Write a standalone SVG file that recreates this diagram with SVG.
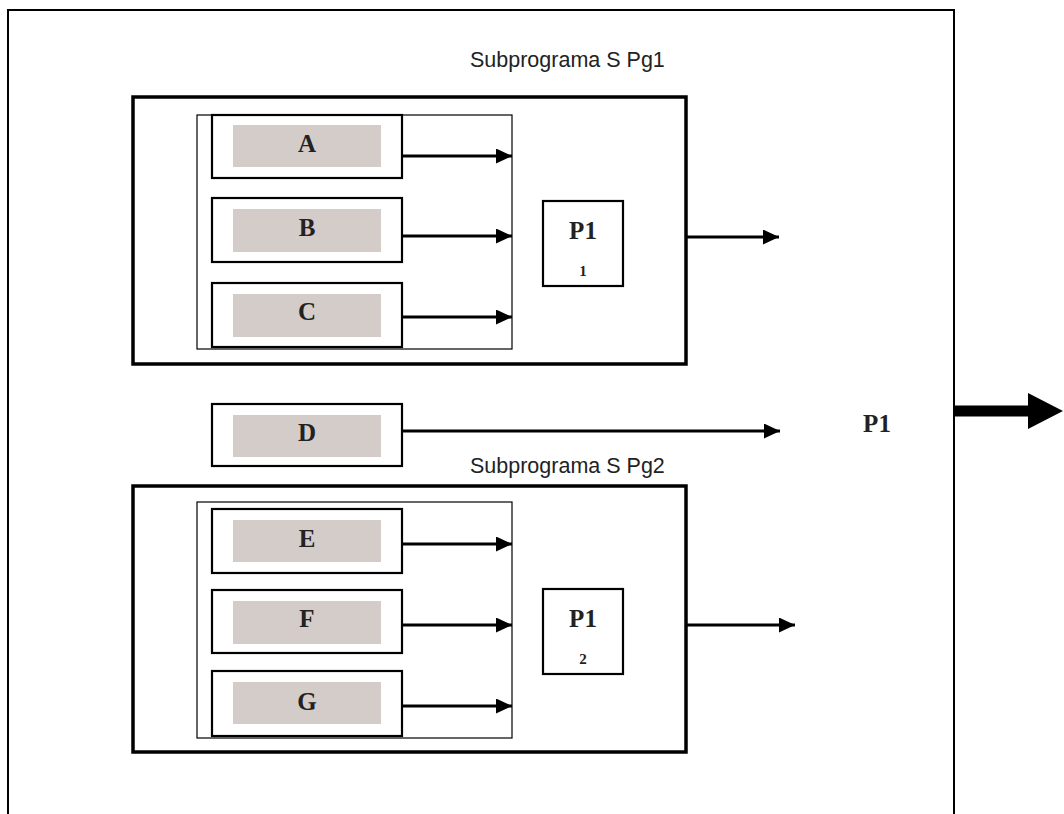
<svg xmlns="http://www.w3.org/2000/svg" width="1064" height="814" viewBox="0 0 1064 814">
<style>
.frame{fill:none;stroke:#000;stroke-width:2}
.sub{fill:none;stroke:#000;stroke-width:3.5}
.inner{fill:none;stroke:#000;stroke-width:1.2}
.box{fill:#fff;stroke:#000;stroke-width:2.2}
.shade{fill:#d3ccc9;stroke:none}
.pbox{fill:#fff;stroke:#000;stroke-width:2.2}
.lbl{font-family:"Liberation Serif","Times New Roman",serif;font-weight:bold;font-size:25px;fill:#222;text-anchor:middle}
.sm{font-family:"Liberation Serif","Times New Roman",serif;font-weight:bold;font-size:15px;fill:#222;text-anchor:middle}
.title{font-family:"Liberation Sans",Arial,sans-serif;font-size:21.5px;fill:#222}
.conn{stroke:#000;stroke-width:3;fill:none;marker-end:url(#ah)}
</style>
<defs>
<marker id="ah" markerUnits="userSpaceOnUse" markerWidth="16" markerHeight="15" refX="16" refY="7.5" orient="auto">
<path d="M0,0 L16,7.5 L0,15 z" fill="#000"/>
</marker>
</defs>
<rect width="1064" height="814" fill="#fff"/>
<g id="frame">
<path class="frame" d="M8,816 L8,10 L954,10 L954,816"/>
</g>
<g id="subprograma1">
<text class="title" x="470" y="67">Subprograma S Pg1</text>
<rect class="sub" x="133" y="97" width="553" height="267"/>
<rect class="inner" x="197" y="115" width="315" height="234"/>
</g>
<g id="nodeA"><rect class="box" x="212" y="115" width="190" height="63"/><rect class="shade" x="233" y="125" width="148" height="42"/><text class="lbl" x="307" y="152">A</text></g>
<g id="nodeB"><rect class="box" x="212" y="198" width="190" height="64"/><rect class="shade" x="233" y="209" width="148" height="43"/><text class="lbl" x="307" y="236">B</text></g>
<g id="nodeC"><rect class="box" x="212" y="283" width="190" height="64"/><rect class="shade" x="233" y="294" width="148" height="43"/><text class="lbl" x="307" y="320">C</text></g>
<g id="nodeP11"><rect class="pbox" x="543" y="201" width="80" height="85"/><text class="lbl" x="583" y="239">P1</text><text class="sm" x="583" y="276">1</text></g>
<g id="nodeD"><rect class="box" x="212" y="404" width="190" height="62"/><rect class="shade" x="233" y="415" width="148" height="42"/><text class="lbl" x="307" y="441">D</text></g>
<g id="subprograma2">
<text class="title" x="470" y="473">Subprograma S Pg2</text>
<rect class="sub" x="133" y="486" width="553" height="266"/>
<rect class="inner" x="197" y="502" width="315" height="236"/>
</g>
<g id="nodeE"><rect class="box" x="212" y="509" width="190" height="64"/><rect class="shade" x="233" y="520" width="148" height="42"/><text class="lbl" x="307" y="547">E</text></g>
<g id="nodeF"><rect class="box" x="212" y="590" width="190" height="63"/><rect class="shade" x="233" y="601" width="148" height="43"/><text class="lbl" x="307" y="627">F</text></g>
<g id="nodeG"><rect class="box" x="212" y="671" width="190" height="65"/><rect class="shade" x="233" y="682" width="148" height="42"/><text class="lbl" x="307" y="710">G</text></g>
<g id="nodeP12"><rect class="pbox" x="543" y="589" width="80" height="85"/><text class="lbl" x="583" y="627">P1</text><text class="sm" x="583" y="664">2</text></g>
<g id="nodeP1"><text class="lbl" x="877" y="432">P1</text></g>
<g id="connectors">
<line class="conn" x1="402" y1="156" x2="512" y2="156"/>
<line class="conn" x1="402" y1="236" x2="512" y2="236"/>
<line class="conn" x1="402" y1="317" x2="512" y2="317"/>
<line class="conn" x1="686" y1="237" x2="779" y2="237"/>
<line class="conn" x1="402" y1="431" x2="780" y2="431"/>
<line class="conn" x1="402" y1="544" x2="512" y2="544"/>
<line class="conn" x1="402" y1="625" x2="512" y2="625"/>
<line class="conn" x1="402" y1="706" x2="512" y2="706"/>
<line class="conn" x1="686" y1="625" x2="795" y2="625"/>
<polygon points="954,405.5 1028,405.5 1028,393 1063,411 1028,429 1028,416.5 954,416.5" fill="#000"/>
</g>
</svg>
